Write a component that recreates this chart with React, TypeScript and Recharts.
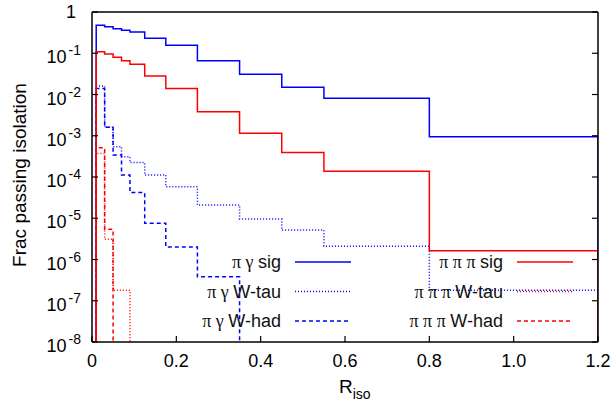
import { LineChart, Line, XAxis, YAxis, Legend, Label } from 'recharts';

// histogram bin edges (R_iso); each series has one value per bin
const binEdges = [0.01, 0.03, 0.05, 0.07, 0.09, 0.125, 0.175, 0.25, 0.35, 0.45, 0.55, 0.8, 1.2];

const piGammaSig = [0.476, 0.44, 0.394, 0.36, 0.327, 0.23, 0.156, 0.066, 0.031, 0.015, 0.0081, 0.00095];
const piGammaWtau = [0.016, 0.0016, 0.00054, 0.00031, 0.000224, 0.000112, 5.8e-5, 2.1e-5, 9.6e-6, 5.2e-6, 2.1e-6, 1.8e-7];
const piGammaWhad = [0.014, 0.0016, 0.00034, 0.000112, 4.2e-5, 7.6e-6, 2.0e-6, 3.8e-7, 0, 0, 0, 0];
const piPiPiSig = [0.109, 0.096, 0.08, 0.066, 0.054, 0.028, 0.014, 0.0038, 0.00115, 0.00039, 0.000137, 1.63e-6];
const piPiPiWtau = [3.7e-4, 3.1e-6, 1.8e-7, 1.8e-7, 0, 0, 0, 0, 0, 0, 0, 0];
const piPiPiWhad = [5.1e-4, 5.4e-6, 0, 0, 0, 0, 0, 0, 0, 0, 0, 0];

const xTicks = [0, 0.2, 0.4, 0.6, 0.8, 1.0, 1.2];
const yTicks = [1e-8, 1e-7, 1e-6, 1e-5, 1e-4, 1e-3, 1e-2, 1e-1, 1];

// empty bins can't sit on a log axis, park them below the frame (clipped)
const FLOOR = 1e-9;

const BLUE = '#0000ff';
const RED = '#ff0000';
const DOTTED = '1 2';
const DASHED = '4 3';

const series = [
  { name: 'π γ sig', values: piGammaSig, color: BLUE, dash: undefined },
  { name: 'π γ W-tau', values: piGammaWtau, color: BLUE, dash: DOTTED },
  { name: 'π γ W-had', values: piGammaWhad, color: BLUE, dash: DASHED },
  { name: 'π π π sig', values: piPiPiSig, color: RED, dash: undefined },
  { name: 'π π π W-tau', values: piPiPiWtau, color: RED, dash: DOTTED },
  { name: 'π π π W-had', values: piPiPiWhad, color: RED, dash: DASHED },
];

function toSteps(values: number[]) {
  const rows = [{ x: binEdges[0], y: FLOOR }];
  binEdges.forEach((edge, i) => {
    const v = i < values.length ? values[i] : 0;
    rows.push({ x: edge, y: v > 0 ? v : FLOOR });
  });
  return rows;
}

const FONT = '"Liberation Sans", Arial, Helvetica, sans-serif';
const GREEK_FONT = '"Liberation Serif", "DejaVu Serif", serif';
const TICK_LEN = 6;

// gnuplot style: tick marks point into the plot, drawn here with the label
function YTick({ x, y, payload }: any) {
  const exp = Math.round(Math.log10(payload.value));
  return (
    <g>
      <line x1={x} x2={x + TICK_LEN} y1={y} y2={y} stroke="#000" strokeWidth={1.2} />
      {exp === 0 ? (
        <text x={x - 16} y={y + 6} textAnchor="end" fontSize={18} fontFamily={FONT} fill="#000">
          1
        </text>
      ) : (
        <text x={x - 11} y={y + 10} textAnchor="end" fontSize={18} fontFamily={FONT} fill="#000">
          10
          <tspan dx={2} dy={-8} fontSize={14}>{exp}</tspan>
        </text>
      )}
    </g>
  );
}

function XTick({ x, y, payload }: any) {
  const v = payload.value;
  return (
    <g>
      <line x1={x} x2={x} y1={y} y2={y - TICK_LEN} stroke="#000" strokeWidth={1.2} />
      <text x={x} y={y + 25} textAnchor="middle" fontSize={18} fontFamily={FONT} fill="#000">
        {v === 0 ? '0' : v.toFixed(1)}
      </text>
    </g>
  );
}

function TopTick({ x, y }: any) {
  return <line x1={x} x2={x} y1={y} y2={y + TICK_LEN} stroke="#000" strokeWidth={1.2} />;
}

function RightTick({ x, y }: any) {
  return <line x1={x} x2={x - TICK_LEN} y1={y} y2={y} stroke="#000" strokeWidth={1.2} />;
}

function XTitle({ viewBox }: any) {
  const x0 = viewBox.x + viewBox.width / 2 - 6;
  return (
    <text x={x0} y={viewBox.y + 51} textAnchor="start" fontSize={19} fontFamily={FONT} fill="#000">
      R<tspan dy={6} fontSize={14}>iso</tspan>
    </text>
  );
}

function YTitle({ viewBox }: any) {
  const cx = viewBox.x + 26;
  const cy = viewBox.y + 163;
  return (
    <text
      x={cx}
      y={cy}
      transform={`rotate(-90 ${cx} ${cy})`}
      textAnchor="middle"
      fontSize={19}
      fontFamily={FONT}
      fill="#000"
    >
      Frac passing isolation
    </text>
  );
}

function LegendName({ x, y, text }: { x: number; y: number; text: string }) {
  const m = text.match(/^([^A-Za-z]+)(.*)$/);
  const greek = m ? m[1] : '';
  const rest = m ? m[2] : text;
  return (
    <text x={x} y={y} textAnchor="end" fontSize={18} fontFamily={FONT} fill="#111" style={{ whiteSpace: 'pre' }}>
      <tspan fontFamily={GREEK_FONT}>{greek}</tspan>
      <tspan>{rest}</tspan>
    </text>
  );
}

function StepLegend({ payload }: any) {
  return (
    <svg width={612} height={410} style={{ overflow: 'visible' }}>
      {(payload || []).map((entry: any) => {
        const idx = series.findIndex((d) => d.name === entry.value);
        const col = Math.floor(idx / 3);
        const row = idx % 3;
        const textRight = col ? 503 : 281;
        const sx = col ? 517 : 295;
        const cy = 262 + row * 29.5;
        const s = series[idx];
        return (
          <g key={entry.value}>
            <LegendName x={textRight} y={cy + 6} text={entry.value} />
            <line
              x1={sx}
              x2={sx + 56}
              y1={cy}
              y2={cy}
              stroke={entry.color}
              strokeWidth={1.5}
              strokeDasharray={s ? s.dash : undefined}
            />
          </g>
        );
      })}
    </svg>
  );
}

export default function App() {
  return (
    <div style={{ position: 'absolute', left: 0, top: 0, background: '#fff' }}>
      <LineChart width={612} height={410} margin={{ top: 11, right: 13, left: 0, bottom: 0 }}>
        <XAxis
          dataKey="x"
          type="number"
          domain={[0, 1.2]}
          ticks={xTicks}
          allowDataOverflow
          tick={<XTick />}
          tickLine={false}
          tickSize={0}
          tickMargin={0}
          height={68}
          stroke="#000"
          strokeWidth={1.5}
        >
          <Label content={<XTitle />} />
        </XAxis>
        <XAxis
          xAxisId="top"
          orientation="top"
          dataKey="x"
          type="number"
          domain={[0, 1.2]}
          ticks={xTicks}
          tick={<TopTick />}
          tickLine={false}
          tickSize={0}
          tickMargin={0}
          height={1}
          stroke="#000"
          strokeWidth={1.5}
        />
        <YAxis
          scale="log"
          domain={[1e-8, 1]}
          ticks={yTicks}
          allowDataOverflow
          tick={<YTick />}
          tickLine={false}
          tickSize={0}
          tickMargin={0}
          width={92}
          stroke="#000"
          strokeWidth={1.5}
        >
          <Label content={<YTitle />} />
        </YAxis>
        <YAxis
          yAxisId="right"
          orientation="right"
          scale="log"
          domain={[1e-8, 1]}
          ticks={yTicks}
          allowDataOverflow
          tick={<RightTick />}
          tickLine={false}
          tickSize={0}
          tickMargin={0}
          width={1}
          stroke="#000"
          strokeWidth={1.5}
        />
        <Legend
          layout="horizontal"
          verticalAlign="middle"
          align="center"
          content={<StepLegend />}
          wrapperStyle={{ left: 0, top: 0, width: 612, height: 410, pointerEvents: 'none' }}
        />
        {series.map((s) => (
          <Line
            key={s.name}
            name={s.name}
            data={toSteps(s.values)}
            dataKey="y"
            type="stepAfter"
            stroke={s.color}
            strokeWidth={1.5}
            strokeDasharray={s.dash}
            dot={false}
            activeDot={false}
            isAnimationActive={false}
          />
        ))}
      </LineChart>
    </div>
  );
}
